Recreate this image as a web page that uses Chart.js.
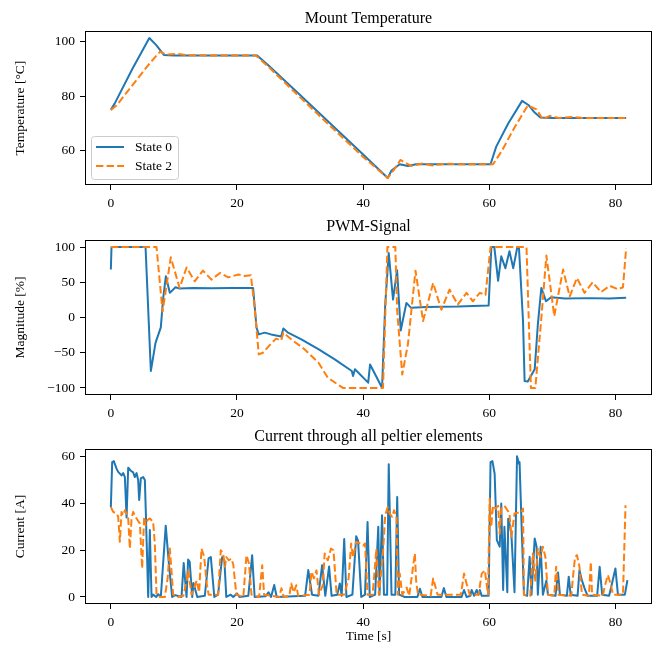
<!DOCTYPE html>
<html>
<head>
<meta charset="utf-8">
<script src="https://cdn.jsdelivr.net/npm/chart.js@4.4.1/dist/chart.umd.min.js"></script>
<style>
  html, body { margin: 0; padding: 0; background: #fff; }
  #wrap { position: relative; width: 660px; height: 645px; }
  canvas { position: absolute; left: 0; }
</style>
</head>
<body>
<div id="wrap">
  <canvas id="tempChart" style="top:0px" width="660" height="215"></canvas>
  <canvas id="pwmChart" style="top:210px" width="660" height="220"></canvas>
  <canvas id="currentChart" style="top:420px" width="660" height="225"></canvas>
</div>
<script>
const BLUE = '#1f77b4';
const ORANGE = '#ff7f0e';
const SERIES_NAMES = ['State 0', 'State 2'];
const X_TICKS = [0, 20, 40, 60, 80];

// Mount temperature
const tempTime0 = [0, 0.6, 3.4, 6.1, 7.2, 8.4, 10, 15, 20, 23.2, 25, 30, 35, 40, 43.9, 44.5, 45.8, 47.1, 48.4, 52, 56, 60.2, 61.1, 63, 65.2, 66.2, 67.2, 68.1, 70, 75, 81.7];
const tempState0 = [75, 77.3, 90, 101.4, 98.8, 95.2, 95, 95, 95, 95, 91.3, 80.5, 69.5, 58.6, 50, 52.7, 55, 54.4, 55, 55, 55, 55, 61.5, 70, 78.3, 76.8, 74, 72.2, 72, 72, 72];
const tempTime2 = [0, 0.9, 3.5, 6.2, 7.8, 8.8, 10.4, 12, 15, 20, 23.0, 25, 30, 35, 40, 43.9, 45.2, 45.9, 47.6, 49.4, 51, 53, 56, 60.6, 62, 64, 66.1, 67.5, 68.5, 69.6, 71, 73, 75, 81.7];
const tempState2 = [75, 76.6, 84.3, 92.2, 96.4, 95.3, 95.6, 95.1, 95, 95, 95, 90.8, 79.6, 68.6, 57.7, 50, 54, 56.6, 54.4, 55.3, 54.6, 55.2, 55, 55, 60, 68.5, 76.6, 75.2, 71.5, 72.8, 72, 72.4, 72, 72];
const tempTicks = [60, 80, 100];

// PWM signal
const pwmTime0 = [0, 0.1, 5.5, 6.34, 7.08, 7.92, 8.3, 8.72, 9.35, 10.25, 10.9, 13, 16, 19, 22.55, 23.1, 23.45, 24.4, 25.4, 27.0, 27.35, 28.1, 30.2, 32.9, 35.5, 38.2, 38.4, 38.7, 40.8, 41.1, 43.0, 43.5, 44.06, 44.74, 45.38, 45.96, 46.86, 47.6, 50, 55, 59.9, 60.33, 60.8, 61.4, 61.9, 62.55, 63.2, 63.8, 64.45, 64.7, 65.35, 65.6, 66.1, 67.2, 67.7, 68.25, 69.0, 69.8, 72, 76, 79, 81.7];
const pwmState0 = [68, 100, 100, -76, -36, -14, 28, 58.5, 35, 43, 41, 42, 41.5, 42, 42, -14.6, -24, -21.5, -24, -27, -15.6, -21.6, -31, -45, -59.5, -76, -83, -73.5, -92.5, -66.6, -99.6, 18.4, 91.5, 25.4, 67, -18.4, 20.7, 13.7, 15, 15.5, 17, 100, 100, 52, 87, 70, 94, 70, 100, 100, -5, -90, -91, -73.6, -10, 42, 23, 28.8, 27, 27.5, 27, 28];
const pwmTime2 = [0, 7.24, 8.2, 9.5, 10.9, 12.0, 13.3, 14.6, 15.95, 17.3, 18.6, 20.2, 21.2, 22.2, 22.8, 23.45, 24.1, 25.4, 26.2, 27.0, 27.35, 28.6, 30.7, 32.9, 34.4, 36.3, 36.8, 43.15, 43.85, 45.1, 45.4, 46.2, 47.1, 48.3, 49.5, 51.1, 52.4, 53.7, 55.0, 56.4, 57.4, 58.5, 59.4, 60.2, 65.9, 66.6, 67.3, 68.3, 69.05, 70.3, 71.7, 72.75, 73.9, 75.1, 76.4, 77.7, 79.1, 80.4, 81.2, 81.7];
const pwmState2 = [100, 100, 8.4, 85.4, 42, 71, 51.4, 66.5, 53.8, 63.2, 57, 61, 59, 60, 13.7, -52.4, -50, -37, -30, -32.7, -21.7, -31, -45, -64, -85.4, -97, -100, -100, 100, 100, 9, -81, -38, 66.5, -5, 49, 11, 39.6, 18.4, 35, 23, 35, 32, 100, 100, -100, -100, 4, 88, 2, 68, 30, 56, 35, 50, 36, 45, 40, 43, 98.6];
const pwmTicks = [-100, -50, 0, 50, 100];

// Current through all peltier elements
const curTime0 = [0, 0.21, 0.47, 0.9, 1.16, 1.69, 1.96, 2.22, 2.49, 2.75, 3.17, 3.54, 3.8, 4.07, 4.33, 4.49, 4.75, 5.12, 5.39, 5.55, 5.92, 6.18, 6.45, 6.7, 7.2, 7.5, 7.92, 8.7, 9.2, 9.72, 10.2, 11.2, 11.55, 12.0, 12.25, 12.5, 12.9, 13.1, 13.7, 14.9, 15.5, 15.85, 16.4, 17.0, 17.65, 18.0, 18.3, 19.0, 19.4, 20.0, 20.4, 21.8, 22.4, 22.8, 24.5, 25.0, 25.4, 25.9, 26.3, 29.0, 30.8, 31.3, 31.9, 32.9, 33.5, 34.0, 34.6, 35.0, 35.9, 36.3, 36.6, 37.0, 37.35, 38.3, 38.9, 39.2, 39.7, 40.3, 40.7, 41.05, 41.9, 42.4, 42.6, 43.0, 43.3, 43.8, 44.06, 44.5, 45.1, 45.4, 45.7, 46.6, 48.6, 49.0, 49.4, 52.4, 52.8, 53.2, 55.6, 56.0, 56.4, 57.0, 57.2, 57.6, 58.0, 58.3, 58.5, 58.8, 59.9, 60.2, 60.5, 60.85, 61.2, 61.65, 61.9, 62.2, 62.4, 62.86, 63.0, 63.2, 63.5, 64.0, 64.4, 64.7, 64.8, 65.2, 65.5, 66.0, 66.4, 66.7, 67.2, 67.5, 67.7, 68.15, 68.5, 69.05, 69.3, 70.5, 70.9, 71.2, 72.3, 72.6, 72.9, 74.0, 74.3, 74.7, 75.2, 75.6, 77.1, 77.5, 77.9, 79.0, 79.35, 80.0, 80.4, 81.5, 81.9];
const curState0 = [38.5, 57.7, 58.1, 54.9, 53.5, 52, 53, 51.3, 34, 55.3, 54, 53.3, 51.3, 53, 50, 41.5, 50.7, 51.3, 50, 35.7, 0, 28.6, 0, 1, 0, 1.2, 0, 30.5, 14.3, 0, 0.8, 0, 14.5, 0, 16, 15, 0, 6, 0, 0.5, 16.5, 17.1, 0, 1, 17.1, 15.7, 0, 1, 0, 1.5, 0, 0.5, 17.9, 0, 0.3, 2, 0, 5.1, 0, 0.3, 0.5, 11.5, 1, 0.5, 13.6, 0.5, 13, 0.5, 1, 5.8, 0.5, 24.8, 0, 1, 26, 24, 0, 1, 32.1, 0, 1, 30, 1, 35, 1, 1, 56.8, 1, 1, 42.8, 1, 0, 0, 3.5, 0, 0, 3.8, 0, 0, 3, 0, 0.5, 3, 0.5, 3, 1, 3, 0.5, 0.5, 57.7, 58.1, 52.7, 24.3, 21.5, 40, 3, 30, 2, 33.5, 31.4, 27, 2, 60.2, 57, 57.7, 24.3, 1, 0.5, 17.2, 1, 25, 21.5, 1, 21.5, 1, 7, 1, 0.5, 10.5, 1, 0.5, 8.7, 1, 0.5, 11.4, 7, 3, 0.5, 0.5, 12.9, 1, 0.5, 4.5, 12.2, 1, 1, 7.2];
const curTime2 = [0, 0.37, 0.9, 1.16, 1.43, 1.69, 1.96, 2.22, 2.49, 2.75, 3.01, 3.28, 3.54, 3.9, 4.23, 4.6, 4.96, 5.28, 5.49, 5.8, 6.18, 6.7, 6.97, 7.24, 7.77, 8.56, 9.0, 9.35, 9.61, 9.88, 10.67, 11.5, 12.0, 12.25, 12.8, 13.6, 14.0, 14.37, 14.8, 15.2, 15.5, 17.0, 17.43, 17.8, 18.1, 18.3, 18.7, 19.1, 19.4, 19.9, 21.0, 21.5, 21.9, 22.3, 23.5, 24.0, 24.3, 26.7, 27.05, 27.4, 28.3, 28.6, 29.0, 29.2, 29.4, 29.7, 31.5, 31.8, 32.2, 32.6, 33.0, 33.6, 33.9, 34.4, 34.9, 35.3, 35.8, 37.0, 37.7, 38.1, 38.4, 38.9, 39.5, 40.0, 40.3, 40.7, 41.5, 42.1, 42.5, 43.1, 43.5, 43.9, 44.2, 44.6, 44.9, 45.3, 45.5, 45.8, 46.2, 46.9, 47.3, 48.2, 48.4, 48.7, 50.7, 51.1, 51.4, 51.8, 55.5, 56.0, 56.4, 56.9, 58.3, 58.8, 59.3, 59.8, 60.06, 60.3, 60.6, 61.0, 61.4, 61.65, 61.9, 62.4, 62.9, 63.2, 63.5, 64.0, 64.5, 65.0, 65.35, 65.5, 66.5, 66.9, 67.3, 67.7, 68.1, 68.5, 68.9, 69.3, 70.3, 70.6, 71.0, 73.0, 73.3, 73.6, 73.9, 74.3, 74.7, 75.8, 76.1, 76.3, 78.0, 78.3, 78.8, 79.2, 79.6, 81.2, 81.6];
const curState2 = [38.5, 36.4, 35.7, 34.3, 23.6, 36.4, 35, 37.1, 35.7, 33.6, 20.7, 33.6, 36.4, 34.3, 32.9, 31.4, 12.2, 34.3, 30.7, 32.9, 33.6, 32.2, 22.9, 1, 0, 0, 8, 20.7, 11.4, 1, 0, 0.5, 7, 11.4, 1, 7, 2, 20.7, 17.1, 5.7, 1, 1, 20, 18.6, 12.9, 17.1, 15.7, 16.4, 14, 1, 0, 17.9, 14.3, 1, 0, 13.6, 1, 0, 3.7, 0, 0.5, 5.8, 2, 3.5, 5, 0.5, 1, 10.8, 8, 11.4, 1, 5, 18.6, 15.7, 20.7, 20, 1, 1, 8, 22.9, 17, 23.6, 22.9, 22, 22.9, 1, 1, 20.7, 1, 17, 35, 38.5, 35.7, 34.3, 37.1, 34.3, 1, 10, 1, 4, 0.5, 18.6, 7, 1, 0.5, 7.9, 5, 1, 1, 10, 5.7, 1, 1, 10, 11.4, 1, 42, 30, 39.1, 37.8, 39, 27, 37.8, 39, 37, 35.7, 25.7, 35.7, 36, 36, 37.8, 1, 0.5, 18.6, 7, 20.7, 17, 21.5, 17, 1, 0.5, 12.9, 1, 0.5, 9.4, 17.1, 17.9, 12.9, 1, 0.5, 15, 1, 0.5, 4.5, 9.4, 6, 1, 1, 39.2];
const curTicks = [0, 20, 40, 60];

const FONT = 'Liberation Serif';
const tickFont = { family: FONT, size: 13.5 };
const titleFont = { family: FONT, size: 16, weight: 'normal' };

const pairs = (xs, ys) => xs.map((x, i) => ({ x, y: ys[i] }));
const fmt = (v) => String(v).replace('-', '\u2212');

const framePlugin = {
  id: 'frame',
  afterDatasetsDraw(chart) {
    const { ctx, chartArea: a } = chart;
    ctx.save();
    ctx.strokeStyle = '#000';
    ctx.lineWidth = 1;
    ctx.strokeRect(Math.round(a.left) + 0.5, Math.round(a.top) + 0.5, Math.round(a.width) - 1, Math.round(a.height) - 1);
    ctx.restore();
  },
};

const legendPlugin = {
  id: 'boxLegend',
  afterDraw(chart) {
    const { ctx, chartArea: a } = chart;
    const w = 87, h = 43;
    const x = a.left + 6, y = a.bottom - 6 - h;
    ctx.save();
    ctx.beginPath();
    ctx.roundRect(x + 0.5, y + 0.5, w, h, 3);
    ctx.fillStyle = 'rgba(255,255,255,0.8)';
    ctx.fill();
    ctx.strokeStyle = '#cccccc';
    ctx.lineWidth = 1;
    ctx.stroke();
    const rows = [{ color: BLUE, dash: [] }, { color: ORANGE, dash: [7.4, 3.2] }];
    rows.forEach((r, i) => {
      const cy = y + 11 + i * 19;
      ctx.beginPath();
      ctx.setLineDash(r.dash);
      ctx.strokeStyle = r.color;
      ctx.lineWidth = 2;
      ctx.moveTo(x + 5, cy);
      ctx.lineTo(x + 33, cy);
      ctx.stroke();
      ctx.setLineDash([]);
      ctx.fillStyle = '#000';
      ctx.font = '13.5px "' + FONT + '"';
      ctx.textBaseline = 'middle';
      ctx.fillText(SERIES_NAMES[i], x + 44, cy);
    });
    ctx.restore();
  },
};

function makeChart(id, opts) {
  const datasets = [
    { label: SERIES_NAMES[0], data: pairs(opts.t0, opts.v0), borderColor: BLUE, borderWidth: 2, order: 1 },
    { label: SERIES_NAMES[1], data: pairs(opts.t2, opts.v2), borderColor: ORANGE, borderWidth: 2, borderDash: [7.4, 3.2], order: 0 },
  ].map((d) => ({ ...d, pointRadius: 0, fill: false, tension: 0, borderJoinStyle: 'round' }));

  return new Chart(document.getElementById(id), {
    type: 'line',
    data: { datasets },
    plugins: opts.legend ? [framePlugin, legendPlugin] : [framePlugin],
    options: {
      responsive: false,
      animation: false,
      events: [],
      devicePixelRatio: 1,
      layout: { padding: { left: 0, right: 8, top: 0, bottom: 0 } },
      plugins: {
        legend: { display: false },
        tooltip: { enabled: false },
        title: {
          display: true,
          text: opts.title,
          fullSize: false,
          color: '#000',
          font: titleFont,
          padding: { top: opts.titleTop, bottom: opts.titleBottom },
        },
      },
      scales: {
        x: {
          type: 'linear',
          min: -4.1,
          max: 85.8,
          afterBuildTicks: (s) => { s.ticks = X_TICKS.map((v) => ({ value: v })); },
          afterFit: (s) => { s.height = opts.xHeight; },
          grid: { drawOnChartArea: false, tickLength: 5, color: '#000', lineWidth: 1 },
          border: { display: false },
          ticks: { color: '#000', padding: 5, autoSkip: false, maxRotation: 0, font: tickFont, callback: fmt },
          title: {
            display: !!opts.xTitle,
            text: opts.xTitle || '',
            color: '#000',
            font: tickFont,
            padding: { top: 0, bottom: 0 },
          },
        },
        y: {
          type: 'linear',
          min: opts.yMin,
          max: opts.yMax,
          afterBuildTicks: (s) => { s.ticks = opts.yTicks.map((v) => ({ value: v })); },
          afterFit: (s) => { s.width = 85; },
          grid: { drawOnChartArea: false, tickLength: 5, color: '#000', lineWidth: 1 },
          border: { display: false },
          ticks: { color: '#000', padding: 5, autoSkip: false, font: tickFont, callback: fmt },
          title: {
            display: true,
            text: opts.yTitle,
            color: '#000',
            font: tickFont,
            padding: { top: 12, bottom: 0 },
          },
        },
      },
    },
  });
}

makeChart('tempChart', {
  title: 'Mount Temperature', titleTop: 9, titleBottom: 3, xHeight: 30,
  yTitle: 'Temperature [°C]', yMin: 47.4, yMax: 103.9, yTicks: tempTicks,
  t0: tempTime0, v0: tempState0, t2: tempTime2, v2: tempState2, legend: true,
});

makeChart('pwmChart', {
  title: 'PWM-Signal', titleTop: 7.5, titleBottom: 3.3, xHeight: 35,
  yTitle: 'Magnitude [%]', yMin: -110, yMax: 110, yTicks: pwmTicks,
  t0: pwmTime0, v0: pwmState0, t2: pwmTime2, v2: pwmState2,
});

makeChart('currentChart', {
  title: 'Current through all peltier elements', titleTop: 7.5, titleBottom: 2.3, xHeight: 41,
  xTitle: 'Time [s]',
  yTitle: 'Current [A]', yMin: -3.0, yMax: 63.3, yTicks: curTicks,
  t0: curTime0, v0: curState0, t2: curTime2, v2: curState2,
});
</script>
</body>
</html>
